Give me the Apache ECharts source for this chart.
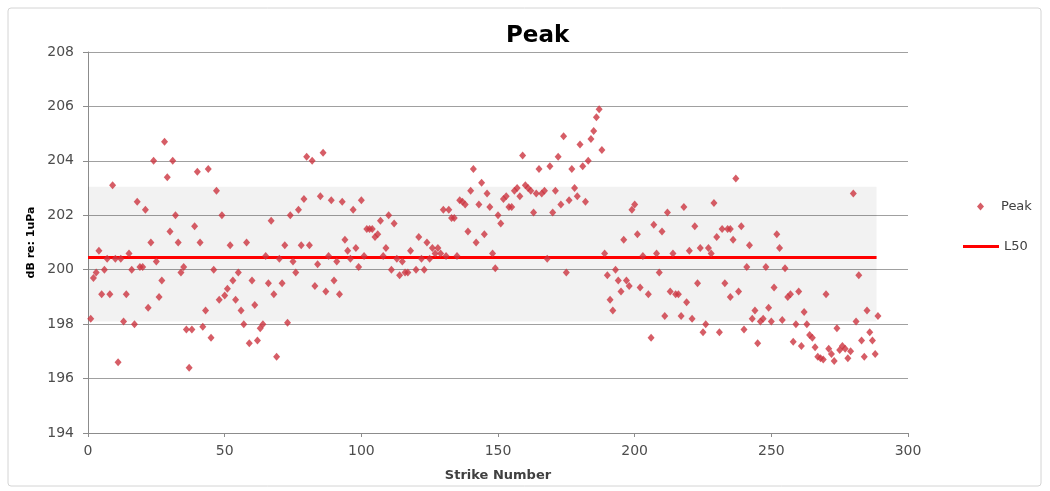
<!DOCTYPE html>
<html>
<head>
<meta charset="utf-8">
<title>Peak</title>
<script src="https://cdn.jsdelivr.net/npm/echarts@6/dist/echarts.min.js"></script>
<style>
	html, body { margin: 0; padding: 0; background: #fff; }
	#chart { width: 1050px; height: 491px; }
</style>
</head>
<body>
<div id="chart"></div>
<script>
	// strike number / peak level (dB re: 1uPa)
	const strikeNumber = [
		1, 2, 3, 4, 5, 6, 7, 8, 9, 10, 11, 12, 13, 14, 15, 16, 17, 18, 19, 20,
		21, 22, 23, 24, 25, 26, 27, 28, 29, 30, 31, 32, 33, 34, 35, 36, 37, 38, 39, 40,
		41, 42, 43, 44, 45, 46, 47, 48, 49, 50, 51, 52, 53, 54, 55, 56, 57, 58, 59, 60,
		61, 62, 63, 64, 65, 66, 67, 68, 69, 70, 71, 72, 73, 74, 75, 76, 77, 78, 79, 80,
		81, 82, 83, 84, 85, 86, 87, 88, 89, 90, 91, 92, 93, 94, 95, 96, 97, 98, 99, 100,
		101, 102, 103, 104, 105, 106, 107, 108, 109, 110, 111, 112, 113, 114, 115, 116, 117, 118, 120,
		121, 122, 123, 124, 125, 126, 127, 128, 129, 130, 131, 132, 133, 134, 135, 136, 137, 138, 139, 140,
		141, 142, 143, 144, 145, 146, 147, 148, 149, 150, 151, 152, 153, 154, 155, 156, 157, 158, 159, 160,
		161, 162, 163, 164, 165, 166, 167, 168, 169, 170, 171, 172, 173, 174, 175, 176, 177, 178, 179, 180,
		181, 182, 183, 184, 185, 186, 187, 188, 189, 190, 191, 192, 193, 194, 195, 196, 197, 198, 199, 200,
		201, 202, 203, 205, 206, 207, 208, 209, 210, 211, 212, 213, 214, 215, 216, 217, 218, 219, 220,
		221, 222, 223, 224, 225, 226, 227, 228, 229, 230, 231, 232, 233, 234, 235, 235, 236, 237, 238, 239,
		240, 241, 242, 243, 244, 245, 246, 247, 248, 249, 250, 251, 252, 253, 254, 255, 256, 257, 258, 259,
		260, 261, 262, 263, 264, 265, 266, 267, 268, 269, 270, 271, 272, 273, 274, 275, 276, 277, 278, 279,
		280, 281, 282, 283, 284, 285, 286, 287, 288, 289
	];
	const peakDb = [
		198.2, 199.7, 199.9, 200.7, 199.1, 200.0, 200.4, 199.1, 203.1, 200.4, 196.6, 200.4, 198.1, 199.1, 200.6, 200.0, 198.0, 202.5, 200.1, 200.1,
		202.2, 198.6, 201.0, 204.0, 200.3, 199.0, 199.6, 204.7, 203.4, 201.4, 204.0, 202.0, 201.0, 199.9, 200.1, 197.8, 196.4, 197.8, 201.6, 203.6,
		201.0, 197.9, 198.5, 203.7, 197.5, 200.0, 202.9, 198.9, 202.0, 199.05, 199.3, 200.9, 199.6, 198.9, 199.9, 198.5, 198.0, 201.0, 197.3, 199.6,
		198.7, 197.4, 197.85, 198.0, 200.5, 199.5, 201.8, 199.1, 196.8, 200.4, 199.5, 200.9, 198.05, 202.0, 200.3, 199.9, 202.2, 200.9, 202.6, 204.15,
		200.9, 204.0, 199.4, 200.2, 202.7, 204.3, 199.2, 200.5, 202.55, 199.6, 200.3, 199.1, 202.5, 201.1, 200.7, 200.4, 202.2, 200.8, 200.1, 202.55,
		200.5, 201.5, 201.5, 201.5, 201.2, 201.3, 201.8, 200.5, 200.8, 202.0, 200.0, 201.7, 200.4, 199.8, 200.3, 199.9, 199.9, 200.7, 200.0,
		201.2, 200.4, 200.0, 201.0, 200.4, 200.8, 200.6, 200.8, 200.6, 202.2, 200.5, 202.2, 201.9, 201.9, 200.5, 202.55, 202.5, 202.4, 201.4, 202.9,
		203.7, 201.0, 202.4, 203.2, 201.3, 202.8, 202.3, 200.6, 200.05, 202.0, 201.7, 202.6, 202.7, 202.3, 202.3, 202.9, 203.0, 202.7, 204.2, 203.1,
		203.0, 202.9, 202.1, 202.8, 203.7, 202.8, 202.9, 200.4, 203.8, 202.1, 202.9, 204.15, 202.4, 204.9, 199.9, 202.55, 203.7, 203.0, 202.7, 204.6,
		203.8, 202.5, 204.0, 204.8, 205.1, 205.6, 205.9, 204.4, 200.6, 199.8, 198.9, 198.5, 200.0, 199.6, 199.2, 201.1, 199.6, 199.4, 202.2, 202.4,
		201.3, 199.35, 200.5, 199.1, 197.5, 201.65, 200.6, 199.9, 201.4, 198.3, 202.1, 199.2, 200.6, 199.1, 199.1, 198.3, 202.3, 198.8, 200.7,
		198.2, 201.6, 199.5, 200.8, 197.7, 198.0, 200.8, 200.6, 202.45, 201.2, 197.7, 201.5, 199.5, 201.5, 201.5, 199.0, 201.1, 203.35, 199.2, 201.6,
		197.8, 200.1, 200.9, 198.2, 198.5, 197.3, 198.1, 198.2, 200.1, 198.6, 198.1, 199.35, 201.3, 200.8, 198.15, 200.05, 199.0, 199.1, 197.35, 198.0,
		199.2, 197.2, 198.45, 198.0, 197.6, 197.5, 197.15, 196.8, 196.75, 196.7, 199.1, 197.1, 196.9, 196.65, 197.85, 197.05, 197.2, 197.1, 196.75, 197.0,
		202.8, 198.1, 199.8, 197.4, 196.8, 198.5, 197.7, 197.4, 196.9, 198.3
	];

	// L50 level and the shaded range behind it
	const l50Value = 200.45;
	const l50Strikes = [0, 288.5];
	const bandLow = 198.1;
	const bandHigh = 203.05;

	const xTicks = { min: 0, max: 300, step: 50 };
	const yTicks = { min: 194, max: 208, step: 2 };

	const peakData = strikeNumber.map((s, i) => [s, peakDb[i]]);
	const l50Data = l50Strikes.map(s => [s, l50Value]);

	const font = 'DejaVu Sans';
	const chart = echarts.init(document.getElementById('chart'));

	const option = {
		backgroundColor: '#fff',
		animation: false,
		textStyle: { fontFamily: font },
		graphic: [{
			type: 'rect',
			shape: { x: 8, y: 8, width: 1033, height: 478, r: 3 },
			style: { fill: 'none', stroke: '#d4d4d4', lineWidth: 1 },
			silent: true
		}],
		title: {
			text: 'Peak',
			left: 501,
			top: 20,
			textStyle: { fontFamily: font, fontSize: 23, fontWeight: 'bold', color: '#000' }
		},
		legend: [
			{
				data: [{ name: 'Peak', icon: 'diamond' }],
				left: 972,
				top: 195,
				itemWidth: 7,
				itemHeight: 8,
				textStyle: { fontFamily: font, fontSize: 13, color: '#404040', padding: [0, 0, 0, 12] }
			},
			{
				data: [{ name: 'L50', icon: 'rect' }],
				left: 958,
				top: 235,
				itemWidth: 36,
				itemHeight: 3,
				textStyle: { fontFamily: font, fontSize: 13, color: '#404040' }
			}
		],
		grid: { left: 88, right: 142, top: 52, bottom: 58 },
		xAxis: {
			type: 'value',
			min: xTicks.min,
			max: xTicks.max,
			interval: xTicks.step,
			name: 'Strike Number',
			nameLocation: 'middle',
			nameGap: 36,
			nameTextStyle: { fontFamily: font, fontSize: 13, fontWeight: 'bold', color: '#404040' },
			axisLine: { lineStyle: { color: '#8c8c8c', width: 1 } },
			axisTick: { show: true, length: 4, lineStyle: { color: '#8c8c8c' } },
			axisLabel: { margin: 11, fontFamily: font, fontSize: 14, color: '#4d4d4d' },
			splitLine: { show: false }
		},
		yAxis: {
			type: 'value',
			min: yTicks.min,
			max: yTicks.max,
			interval: yTicks.step,
			name: 'dB re: 1uPa',
			nameLocation: 'middle',
			nameGap: 50,
			nameRotate: 90,
			nameTextStyle: { fontFamily: font, fontSize: 11, fontWeight: 'bold', color: '#000' },
			axisLine: { show: true, lineStyle: { color: '#8c8c8c', width: 1 } },
			axisTick: { show: true, length: 5, lineStyle: { color: '#8c8c8c' } },
			axisLabel: { margin: 14, fontFamily: font, fontSize: 14, color: '#4d4d4d' },
			splitLine: { show: true, lineStyle: { color: '#a0a0a0', width: 1.2 } }
		},
		series: [
			{
				name: 'L50',
				type: 'line',
				data: l50Data,
				symbol: 'none',
				z: 2,
				lineStyle: { color: '#ff0000', width: 3 },
				itemStyle: { color: '#ff0000' },
				markArea: {
					silent: true,
					itemStyle: { color: 'rgba(0,0,0,0.05)' },
					data: [[
						{ xAxis: l50Strikes[0], yAxis: bandLow },
						{ xAxis: l50Strikes[1], yAxis: bandHigh }
					]]
				}
			},
			{
				name: 'Peak',
				type: 'scatter',
				data: peakData,
				symbol: 'diamond',
				symbolSize: [7, 8],
				z: 3,
				itemStyle: { color: '#cc3440' }
			}
		]
	};

	chart.setOption(option);
</script>
</body>
</html>
